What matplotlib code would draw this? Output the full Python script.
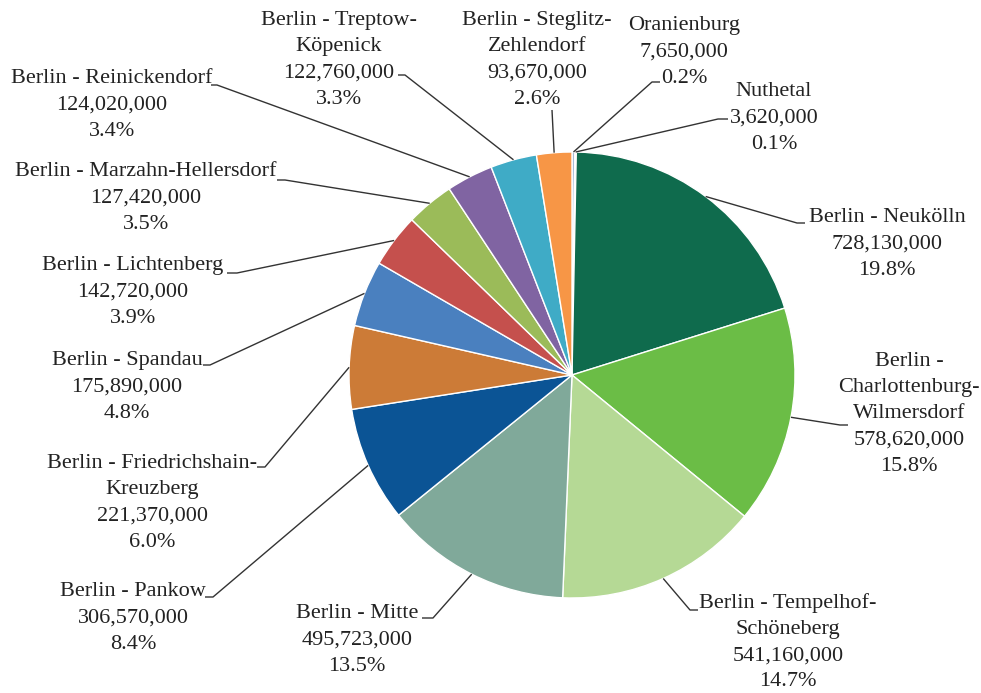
import numpy as np
import matplotlib.pyplot as plt

plt.rcParams['font.family'] = ['Liberation Serif', 'DejaVu Serif']

# Bezirke / Gemeinden, in Zeichenreihenfolge (im Uhrzeigersinn ab 12 Uhr)
bezirke = [
    "Oranienburg",
    "Nuthetal",
    "Berlin - Neukölln",
    "Berlin -\nCharlottenburg-\nWilmersdorf",
    "Berlin - Tempelhof-\nSchöneberg",
    "Berlin - Mitte",
    "Berlin - Pankow",
    "Berlin - Friedrichshain-\nKreuzberg",
    "Berlin - Spandau",
    "Berlin - Lichtenberg",
    "Berlin - Marzahn-Hellersdorf",
    "Berlin - Reinickendorf",
    "Berlin - Treptow-\nKöpenick",
    "Berlin - Steglitz-\nZehlendorf",
]
werte = [7650000, 3620000, 728130000, 578620000, 541160000, 495723000,
         306570000, 221370000, 175890000, 142720000, 127420000,
         124020000, 122760000, 93670000]
farben = ['#aabdd6', '#c8d8ea', '#0f6b4d', '#6bbd46', '#b5d995', '#80a99a',
          '#0b5495', '#cc7b37', '#4a80bf', '#c5504d', '#9bbb59', '#8064a2',
          '#3fabc6', '#f79646']

# Beschriftungen: Mitte des Textblocks, Knick der Führungslinie, Ende der Linie
text_pos = [(684, 52), (774, 118), (887, 244), (909, 414), (788, 642),
            (357, 640), (133, 618), (152, 503), (127, 387), (133, 292),
            (146, 198), (112, 105), (339, 60), (537, 60)]
knick = [(652, 82), (718, 119), (797, 223), (840, 425), (690, 610),
         (433, 618), (213, 597), (265, 467), (210, 365), (237, 273),
         (285, 180), (217, 85), (405, 75), (552, 110)]
ende = [(660, 82), (728, 119), (805, 223), (848, 425), (698, 610),
        (422, 618), (205, 597), (257, 467), (203, 365), (227, 273),
        (277, 180), (211, 85), (398, 75), (552, 110)]

mitte = (572, 375)
radius = 223
textfarbe = '#222222'

fig = plt.figure(figsize=(9.81, 6.93), dpi=100)
ax = fig.add_axes([0, 0, 1, 1])

wedges, _ = ax.pie(werte, colors=farben, startangle=-90, counterclock=True,
                   center=mitte, radius=radius,
                   wedgeprops=dict(edgecolor='white', linewidth=1.0))
ax.set_xlim(0, 981)
ax.set_ylim(693, 0)
ax.set_aspect('equal')
ax.axis('off')

summe = sum(werte)
for w, name, wert, tp, kn, en in zip(wedges, bezirke, werte, text_pos, knick, ende):
    # Führungslinie vom Bogenmittelpunkt des Segments
    theta = np.deg2rad((w.theta1 + w.theta2) / 2)
    x0 = mitte[0] + radius * np.cos(theta)
    y0 = mitte[1] + radius * np.sin(theta)
    ax.plot([x0, kn[0], en[0]], [y0, kn[1], en[1]], color='#333333',
            linewidth=1.0, solid_capstyle='butt')
    label = f"{name}\n{wert:,}\n{wert / summe * 100:.1f}%"
    ax.text(tp[0], tp[1], label, ha='center', va='center', fontsize=16,
            color=textfarbe, linespacing=1.52, multialignment='center')

fig.savefig('out.png', dpi=100)
